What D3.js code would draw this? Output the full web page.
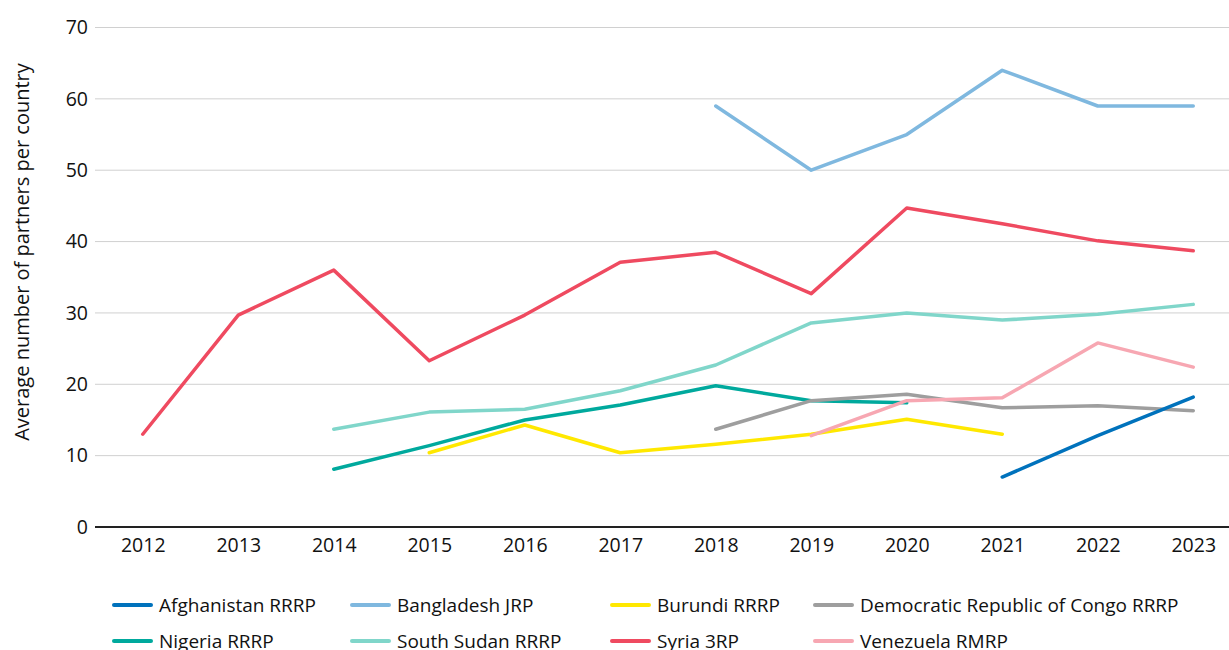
<!DOCTYPE html>
<html>
<head>
<meta charset="utf-8">
<script src="https://cdn.jsdelivr.net/npm/d3@7/dist/d3.min.js"></script>
<style>
  html, body { margin: 0; padding: 0; background: #fff; }
  svg { display: block; font-family: "Open Sans", sans-serif; }
</style>
</head>
<body>
<svg id="chart" width="1229" height="650"></svg>
<script>
const years = [2012, 2013, 2014, 2015, 2016, 2017, 2018, 2019, 2020, 2021, 2022, 2023];
const yTicks = [0, 10, 20, 30, 40, 50, 60, 70];
const yLabel = "Average number of partners per country";

const seriesNames = [
  "Afghanistan RRRP", "Bangladesh JRP", "Burundi RRRP", "Democratic Republic of Congo RRRP",
  "Nigeria RRRP", "South Sudan RRRP", "Syria 3RP", "Venezuela RMRP"
];
const seriesColors = ["#0072BC", "#7FB8DF", "#FFE800", "#9E9E9E", "#00A99D", "#80D6CA", "#EF4A60", "#F7A7B2"];

// values per year (null = no data)
const afghanistan = [null, null, null, null, null, null, null, null, null, 7.0, 12.8, 18.2];
const bangladesh  = [null, null, null, null, null, null, 59.0, 50.0, 55.0, 64.0, 59.0, 59.0];
const burundi     = [null, null, null, 10.4, 14.3, 10.4, 11.6, 13.0, 15.1, 13.0, null, null];
const drc         = [null, null, null, null, null, null, 13.7, 17.7, 18.6, 16.7, 17.0, 16.3];
const nigeria     = [null, null, 8.1, 11.4, 15.0, 17.1, 19.8, 17.7, 17.4, null, null, null];
const southSudan  = [null, null, 13.7, 16.1, 16.5, 19.1, 22.7, 28.6, 30.0, 29.0, 29.8, 31.2];
const syria       = [13.0, 29.7, 36.0, 23.3, 29.7, 37.1, 38.5, 32.7, 44.7, 42.5, 40.1, 38.7];
const venezuela   = [null, null, null, null, null, null, null, 12.8, 17.7, 18.1, 25.8, 22.4];

const seriesValues = [afghanistan, bangladesh, burundi, drc, nigeria, southSudan, syria, venezuela];
// drawing order (back to front)
const drawOrder = [5, 4, 2, 3, 7, 0, 1, 6];

const svg = d3.select("#chart");
const plotLeft = 95, plotRight = 1241, plotTop = 27.5, plotBottom = 527;

const x = d3.scalePoint().domain(years).range([plotLeft, plotRight]).padding(0.5);
const y = d3.scaleLinear().domain([0, 70]).range([plotBottom, plotTop]);

// gridlines
svg.append("g").selectAll("line").data(yTicks.filter(d => d > 0)).join("line")
  .attr("x1", plotLeft).attr("x2", plotRight)
  .attr("y1", d => y(d)).attr("y2", d => y(d))
  .attr("stroke", "#d0d0d0").attr("stroke-width", 1);

// y axis labels
const yAxis = d3.axisLeft(y).tickValues(yTicks).tickSize(0).tickPadding(7);
const gy = svg.append("g").attr("transform", `translate(${plotLeft},0)`).call(yAxis);
gy.select(".domain").remove();
gy.selectAll("text").attr("font-size", 19.5).attr("fill", "#111").attr("font-family", "Open Sans");

// x axis
const xAxis = d3.axisBottom(x).tickSize(0).tickPadding(11);
const gx = svg.append("g").attr("transform", `translate(0,${plotBottom})`).call(xAxis);
gx.select(".domain").remove();
gx.selectAll("text").attr("font-size", 19.5).attr("fill", "#111").attr("font-family", "Open Sans");

// lines
const line = d3.line()
  .defined(d => d.v !== null)
  .x(d => x(d.year))
  .y(d => y(d.v));

drawOrder.forEach(i => {
  const pts = years.map((yr, j) => ({ year: yr, v: seriesValues[i][j] }));
  svg.append("path")
    .attr("d", line(pts))
    .attr("fill", "none")
    .attr("stroke", seriesColors[i])
    .attr("stroke-width", 3.5)
    .attr("stroke-linejoin", "round")
    .attr("stroke-linecap", "round");
});

// baseline
svg.append("line")
  .attr("x1", plotLeft).attr("x2", plotRight)
  .attr("y1", plotBottom).attr("y2", plotBottom)
  .attr("stroke", "#222").attr("stroke-width", 2);

// y axis title
svg.append("text")
  .attr("transform", `translate(29,252) rotate(-90)`)
  .attr("text-anchor", "middle")
  .attr("font-size", 20)
  .attr("fill", "#111")
  .text(yLabel);

// legend: 4 columns x 2 rows
const legend = svg.append("g");
const nCols = 4;
const rowY = [605, 641];
const colXs = [114, 352, 612, 815];
const swatchW = 37, swatchGap = 8;
for (let c = 0; c < nCols; c++) {
  for (let r = 0; r < 2; r++) {
    const i = r * nCols + c;
    legend.append("line")
      .attr("x1", colXs[c]).attr("x2", colXs[c] + swatchW)
      .attr("y1", rowY[r]).attr("y2", rowY[r])
      .attr("stroke", seriesColors[i]).attr("stroke-width", 4)
      .attr("stroke-linecap", "round");
    legend.append("text")
      .attr("x", colXs[c] + swatchW + swatchGap)
      .attr("y", rowY[r])
      .attr("dy", "0.35em")
      .attr("font-size", 19)
      .attr("fill", "#111")
      .text(seriesNames[i]);
  }
}
</script>
</body>
</html>
